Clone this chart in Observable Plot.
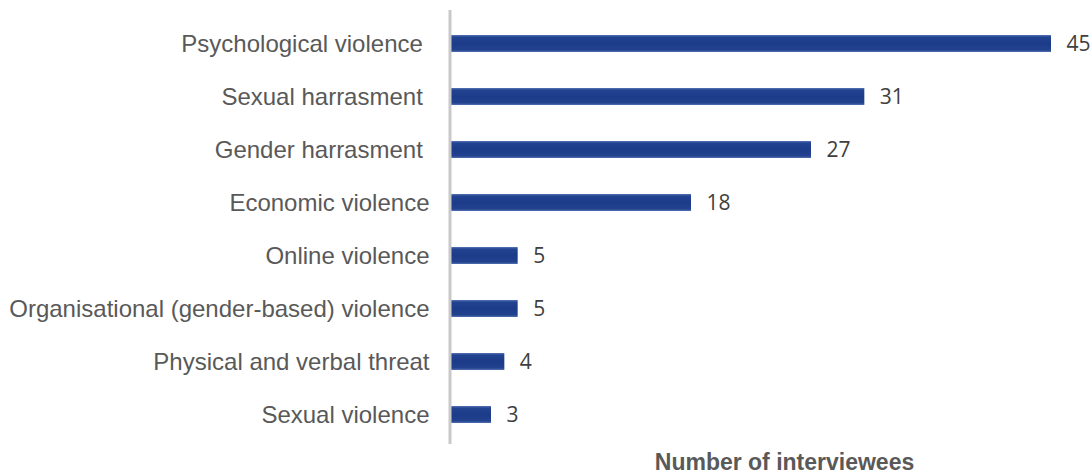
<!DOCTYPE html>
<html>
<head>
<meta charset="utf-8">
<script src="https://cdn.jsdelivr.net/npm/d3@7"></script>
<script src="https://cdn.jsdelivr.net/npm/@observablehq/plot@0.6"></script>
<style>
  html, body { margin: 0; padding: 0; background: #ffffff; }
  #chart { position: relative; width: 1092px; height: 473px; }
</style>
</head>
<body>
<div id="chart"></div>
<script>
const categories = [
  "Psychological violence\u00a0",
  "Sexual harrasment\u00a0",
  "Gender harrasment\u00a0",
  "Economic violence",
  "Online violence",
  "Organisational (gender-based) violence",
  "Physical and verbal threat",
  "Sexual violence"
];
const values = [45, 31, 27, 18, 5, 5, 4, 3];
const xTitle = "Number of interviewees";

const data = categories.map((c, i) => ({category: c, value: values[i]}));

const plot = Plot.plot({
  width: 1092,
  height: 473,
  marginLeft: 451,
  marginRight: 41,
  marginTop: 14,
  marginBottom: 30,
  style: {background: "transparent"},
  x: {domain: [0, 45], axis: null},
  y: {domain: categories, axis: null, paddingInner: 0.68, paddingOuter: 0.34},
  marks: [
    Plot.barX(data, {x: "value", y: "category", fill: "url(#barGrad)"}),
    Plot.ruleX([0], {stroke: "#c9c9c9", strokeWidth: 3, dx: -1.5, y1: () => categories[0], y2: () => categories[categories.length - 1], insetTop: -25, insetBottom: -21}),
    Plot.text(data, {
      x: 0, y: "category", text: "category", dx: -22, textAnchor: "end",
      fontSize: 24, fill: "#595959", fontFamily: "Liberation Sans, Arial, sans-serif"
    }),
    Plot.text(data, {
      x: "value", y: "category", text: d => String(d.value), dx: 15, textAnchor: "start",
      fontSize: 21, fill: "#404040", fontFamily: "Open Sans, sans-serif"
    }),
    Plot.text([xTitle], {
      frameAnchor: "bottom", text: d => d, dy: 26, dx: 33,
      fontSize: 23, fontWeight: "bold", fill: "#595959",
      fontFamily: "Liberation Sans, Arial, sans-serif"
    })
  ]
});

// vertical gradient for the bars
const svgNS = "http://www.w3.org/2000/svg";
const defs = document.createElementNS(svgNS, "defs");
defs.innerHTML = `<linearGradient id="barGrad" x1="0" y1="0" x2="0" y2="1">
  <stop offset="0" stop-color="#5877b8"/>
  <stop offset="0.12" stop-color="#22438f"/>
  <stop offset="0.5" stop-color="#1c3c8a"/>
  <stop offset="0.88" stop-color="#22428e"/>
  <stop offset="1" stop-color="#5372b2"/>
</linearGradient>`;
plot.insertBefore(defs, plot.firstChild);

document.getElementById("chart").appendChild(plot);
</script>
</body>
</html>
